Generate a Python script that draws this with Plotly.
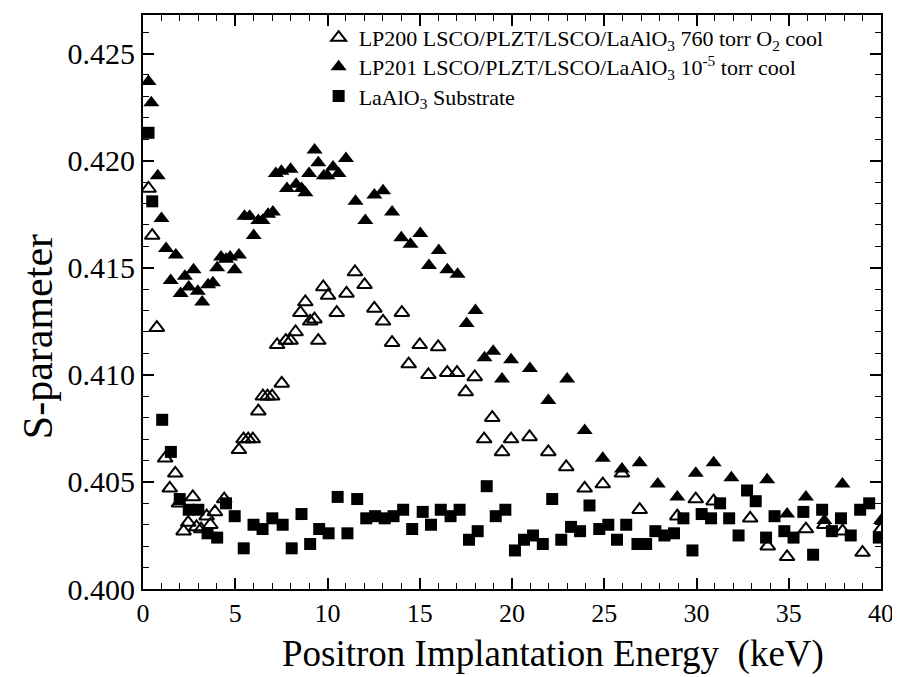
import plotly.graph_objects as go

# LP200 (open triangles)
lp200_E = [0.3, 0.5, 0.75, 1.2, 1.45, 1.75, 1.95, 2.2, 2.45, 2.7, 2.9, 3.15, 3.45, 3.65, 3.9, 4.4,
           5.2, 5.45, 5.7, 5.95, 6.25, 6.5, 6.75, 7.0, 7.27, 7.52, 7.74, 8.0, 8.27, 8.53, 8.8, 9.06,
           9.29, 9.5, 9.77, 10.03, 10.5, 11.03, 11.49, 12.01, 12.54, 13.01, 13.5, 14.03, 14.4, 15.0,
           15.47, 16.0, 16.49, 17.02, 17.49, 17.98, 18.49, 18.93, 19.46, 19.95, 20.95, 21.97, 22.94,
           23.94, 24.92, 25.96, 26.92, 28.96, 29.96, 30.93, 32.91, 33.86, 34.91, 35.93, 36.93, 37.92,
           39.0, 40.0]
lp200_S = [0.4187, 0.4165, 0.4122, 0.4061, 0.4047, 0.4054, 0.4040, 0.4027, 0.4031, 0.4043, 0.4029,
           0.4028, 0.4034, 0.4030, 0.4036, 0.4042, 0.4065, 0.4070, 0.4070, 0.4070, 0.4083, 0.4090,
           0.4090, 0.4090, 0.4114, 0.4096, 0.4116, 0.4116, 0.4120, 0.4129, 0.4134, 0.4125, 0.4126,
           0.4116, 0.4141, 0.4137, 0.4129, 0.4138, 0.4148, 0.4142, 0.4131, 0.4125, 0.4115, 0.4129,
           0.4105, 0.4114, 0.4100, 0.4113, 0.4101, 0.4101, 0.4092, 0.4099, 0.4070, 0.4080, 0.4064,
           0.4070, 0.4071, 0.4064, 0.4057, 0.4047, 0.4049, 0.4054, 0.4037, 0.4034, 0.4042, 0.4041,
           0.4033, 0.4020, 0.4015, 0.4028, 0.4030, 0.4027, 0.4017, 0.4028]

# LP201 (filled triangles)
lp201_E = [0.3, 0.45, 0.8, 1.0, 1.25, 1.5, 1.78, 2.04, 2.27, 2.48, 2.74, 2.97, 3.21, 3.53, 3.79, 4.02,
           4.23, 4.5, 4.72, 4.97, 5.2, 5.5, 5.78, 6.0, 6.25, 6.48, 6.78, 7.04, 7.2, 7.5, 7.8, 8.0,
           8.3, 8.6, 8.8, 9.0, 9.3, 9.5, 9.8, 10.0, 10.3, 10.6, 11.0, 11.52, 12.05, 12.54, 13.01,
           13.5, 14.0, 14.5, 15.03, 15.5, 16.03, 16.5, 17.05, 17.54, 18.02, 18.51, 18.98, 19.46,
           19.95, 20.97, 21.97, 22.99, 23.94, 24.92, 25.96, 26.92, 27.9, 28.96, 29.96, 30.93, 31.89,
           33.83, 34.91, 35.93, 36.93, 37.91, 40.0]
lp201_S = [0.4237, 0.4227, 0.4193, 0.4173, 0.4159, 0.4144, 0.4156, 0.4138, 0.4146, 0.4141, 0.4149,
           0.4139, 0.4134, 0.4142, 0.4143, 0.4150, 0.4155, 0.4154, 0.4155, 0.4149, 0.4156, 0.4174,
           0.4174, 0.4165, 0.4172, 0.4172, 0.4175, 0.4176, 0.4194, 0.4195, 0.4187, 0.4196, 0.4189,
           0.4187, 0.4185, 0.4194, 0.4205, 0.4199, 0.4193, 0.4193, 0.4197, 0.4194, 0.4201, 0.4181,
           0.4172, 0.4184, 0.4186, 0.4176, 0.4164, 0.4161, 0.4166, 0.4151, 0.4158, 0.4149, 0.4147,
           0.4124, 0.4130, 0.4108, 0.4111, 0.4098, 0.4107, 0.4103, 0.4088, 0.4098, 0.4074, 0.4061,
           0.4056, 0.4059, 0.4049, 0.4043, 0.4054, 0.4059, 0.4052, 0.4051, 0.4035, 0.4043, 0.4032,
           0.4049, 0.4032]

# LaAlO3 substrate (filled squares)
sub_E = [0.3, 0.5, 1.04, 1.51, 1.99, 2.48, 3.0, 3.5, 4.02, 4.5, 4.97, 5.46, 5.99, 6.48, 7.01, 7.57,
         8.06, 8.59, 9.06, 9.55, 10.06, 10.55, 11.08, 11.61, 12.1, 12.58, 13.1, 13.58, 14.1, 14.59,
         15.16, 15.61, 16.14, 16.67, 17.16, 17.67, 18.14, 18.63, 19.12, 19.64, 20.16, 20.65, 21.14,
         21.67, 22.18, 22.67, 23.2, 23.69, 24.2, 24.73, 25.22, 25.69, 26.19, 26.8, 27.27, 27.77,
         28.26, 28.78, 29.29, 29.78, 30.28, 30.79, 31.28, 31.77, 32.28, 32.74, 33.21, 33.77, 34.23,
         34.76, 35.26, 35.79, 36.32, 36.81, 37.34, 37.83, 38.36, 38.87, 39.36, 39.88]
sub_S = [0.4213, 0.4181, 0.4079, 0.4064, 0.4042, 0.4037, 0.4037, 0.4026, 0.4024, 0.4040, 0.4034,
         0.4019, 0.4030, 0.4028, 0.4033, 0.4030, 0.4019, 0.4035, 0.4021, 0.4028, 0.4026, 0.4043,
         0.4026, 0.4042, 0.4033, 0.4034, 0.4033, 0.4034, 0.4037, 0.4028, 0.4036, 0.4030, 0.4037,
         0.4034, 0.4037, 0.4023, 0.4027, 0.4048, 0.4034, 0.4037, 0.4018, 0.4023, 0.4025, 0.4021,
         0.4042, 0.4023, 0.4029, 0.4027, 0.4039, 0.4028, 0.4030, 0.4023, 0.4030, 0.4021, 0.4021,
         0.4027, 0.4025, 0.4026, 0.4033, 0.4018, 0.4035, 0.4033, 0.4040, 0.4033, 0.4025, 0.4046,
         0.4041, 0.4024, 0.4034, 0.4027, 0.4024, 0.4036, 0.4016, 0.4037, 0.4027, 0.4033, 0.4025,
         0.4037, 0.4040, 0.4024]

names = ["LP200 LSCO/PLZT/LSCO/LaAlO<sub>3</sub> 760 torr O<sub>2</sub> cool",
         "LP201 LSCO/PLZT/LSCO/LaAlO<sub>3</sub> 10<sup>-5</sup> torr cool",
         "LaAlO<sub>3</sub> Substrate"]

x_ticks = [0, 5, 10, 15, 20, 25, 30, 35, 40]
y_ticks = [0.400, 0.405, 0.410, 0.415, 0.420, 0.425]

FONT = "Liberation Serif, Times New Roman, serif"

fig = go.Figure()
fig.add_trace(go.Scatter(x=lp200_E, y=lp200_S, mode="markers", name=names[0], legend="legend",
                         marker=dict(symbol="triangle-up-open", size=13, color="black",
                                     line=dict(width=2, color="black"))))
fig.add_trace(go.Scatter(x=lp201_E, y=lp201_S, mode="markers", name=names[1], legend="legend2",
                         marker=dict(symbol="triangle-up", size=14, color="black")))
fig.add_trace(go.Scatter(x=sub_E, y=sub_S, mode="markers", name=names[2], legend="legend3",
                         marker=dict(symbol="square", size=12, color="black")))

axis_common = dict(showline=True, linecolor="black", linewidth=2, mirror="ticks",
                   ticks="inside", ticklen=11, tickwidth=1.5, tickcolor="black",
                   showgrid=False, zeroline=False)

fig.update_xaxes(range=[0, 40], tickvals=x_ticks, ticktext=[str(v) for v in x_ticks],
                 tickfont=dict(family=FONT, size=26, color="black"),
                 minor=dict(dtick=1, ticks="inside", ticklen=6, tickwidth=1, tickcolor="black"),
                 **axis_common)
fig.update_yaxes(range=[0.400, 0.4268], tickvals=y_ticks, ticktext=[f"{v:.3f}" for v in y_ticks],
                 tickfont=dict(family=FONT, size=30, color="black"),
                 minor=dict(dtick=0.001, ticks="inside", ticklen=6, tickwidth=1, tickcolor="black"),
                 **axis_common)

fig.add_annotation(text="Positron Implantation Energy  (keV)", xref="paper", yref="paper",
                   x=0.556, y=-0.113, xanchor="center", yanchor="middle", showarrow=False,
                   font=dict(family=FONT, size=37, color="black"))
fig.add_annotation(text="S-parameter", xref="paper", yref="paper", textangle=-90,
                   x=-0.142, y=0.439, xanchor="center", yanchor="middle", showarrow=False,
                   font=dict(family=FONT, size=42, color="black"))

leg_common = dict(x=0.238, xanchor="left", yanchor="top", bgcolor="rgba(0,0,0,0)",
                  borderwidth=0, font=dict(family=FONT, size=22, color="black"),
                  itemsizing="trace")

fig.update_layout(
    width=900, height=677,
    margin=dict(l=135, r=27, t=5, b=96),
    plot_bgcolor="white", paper_bgcolor="white",
    font=dict(family=FONT, color="black"),
    legend=dict(y=0.997, **leg_common),
    legend2=dict(y=0.946, **leg_common),
    legend3=dict(y=0.895, **leg_common),
    showlegend=True,
)

fig.write_html("out.html")
